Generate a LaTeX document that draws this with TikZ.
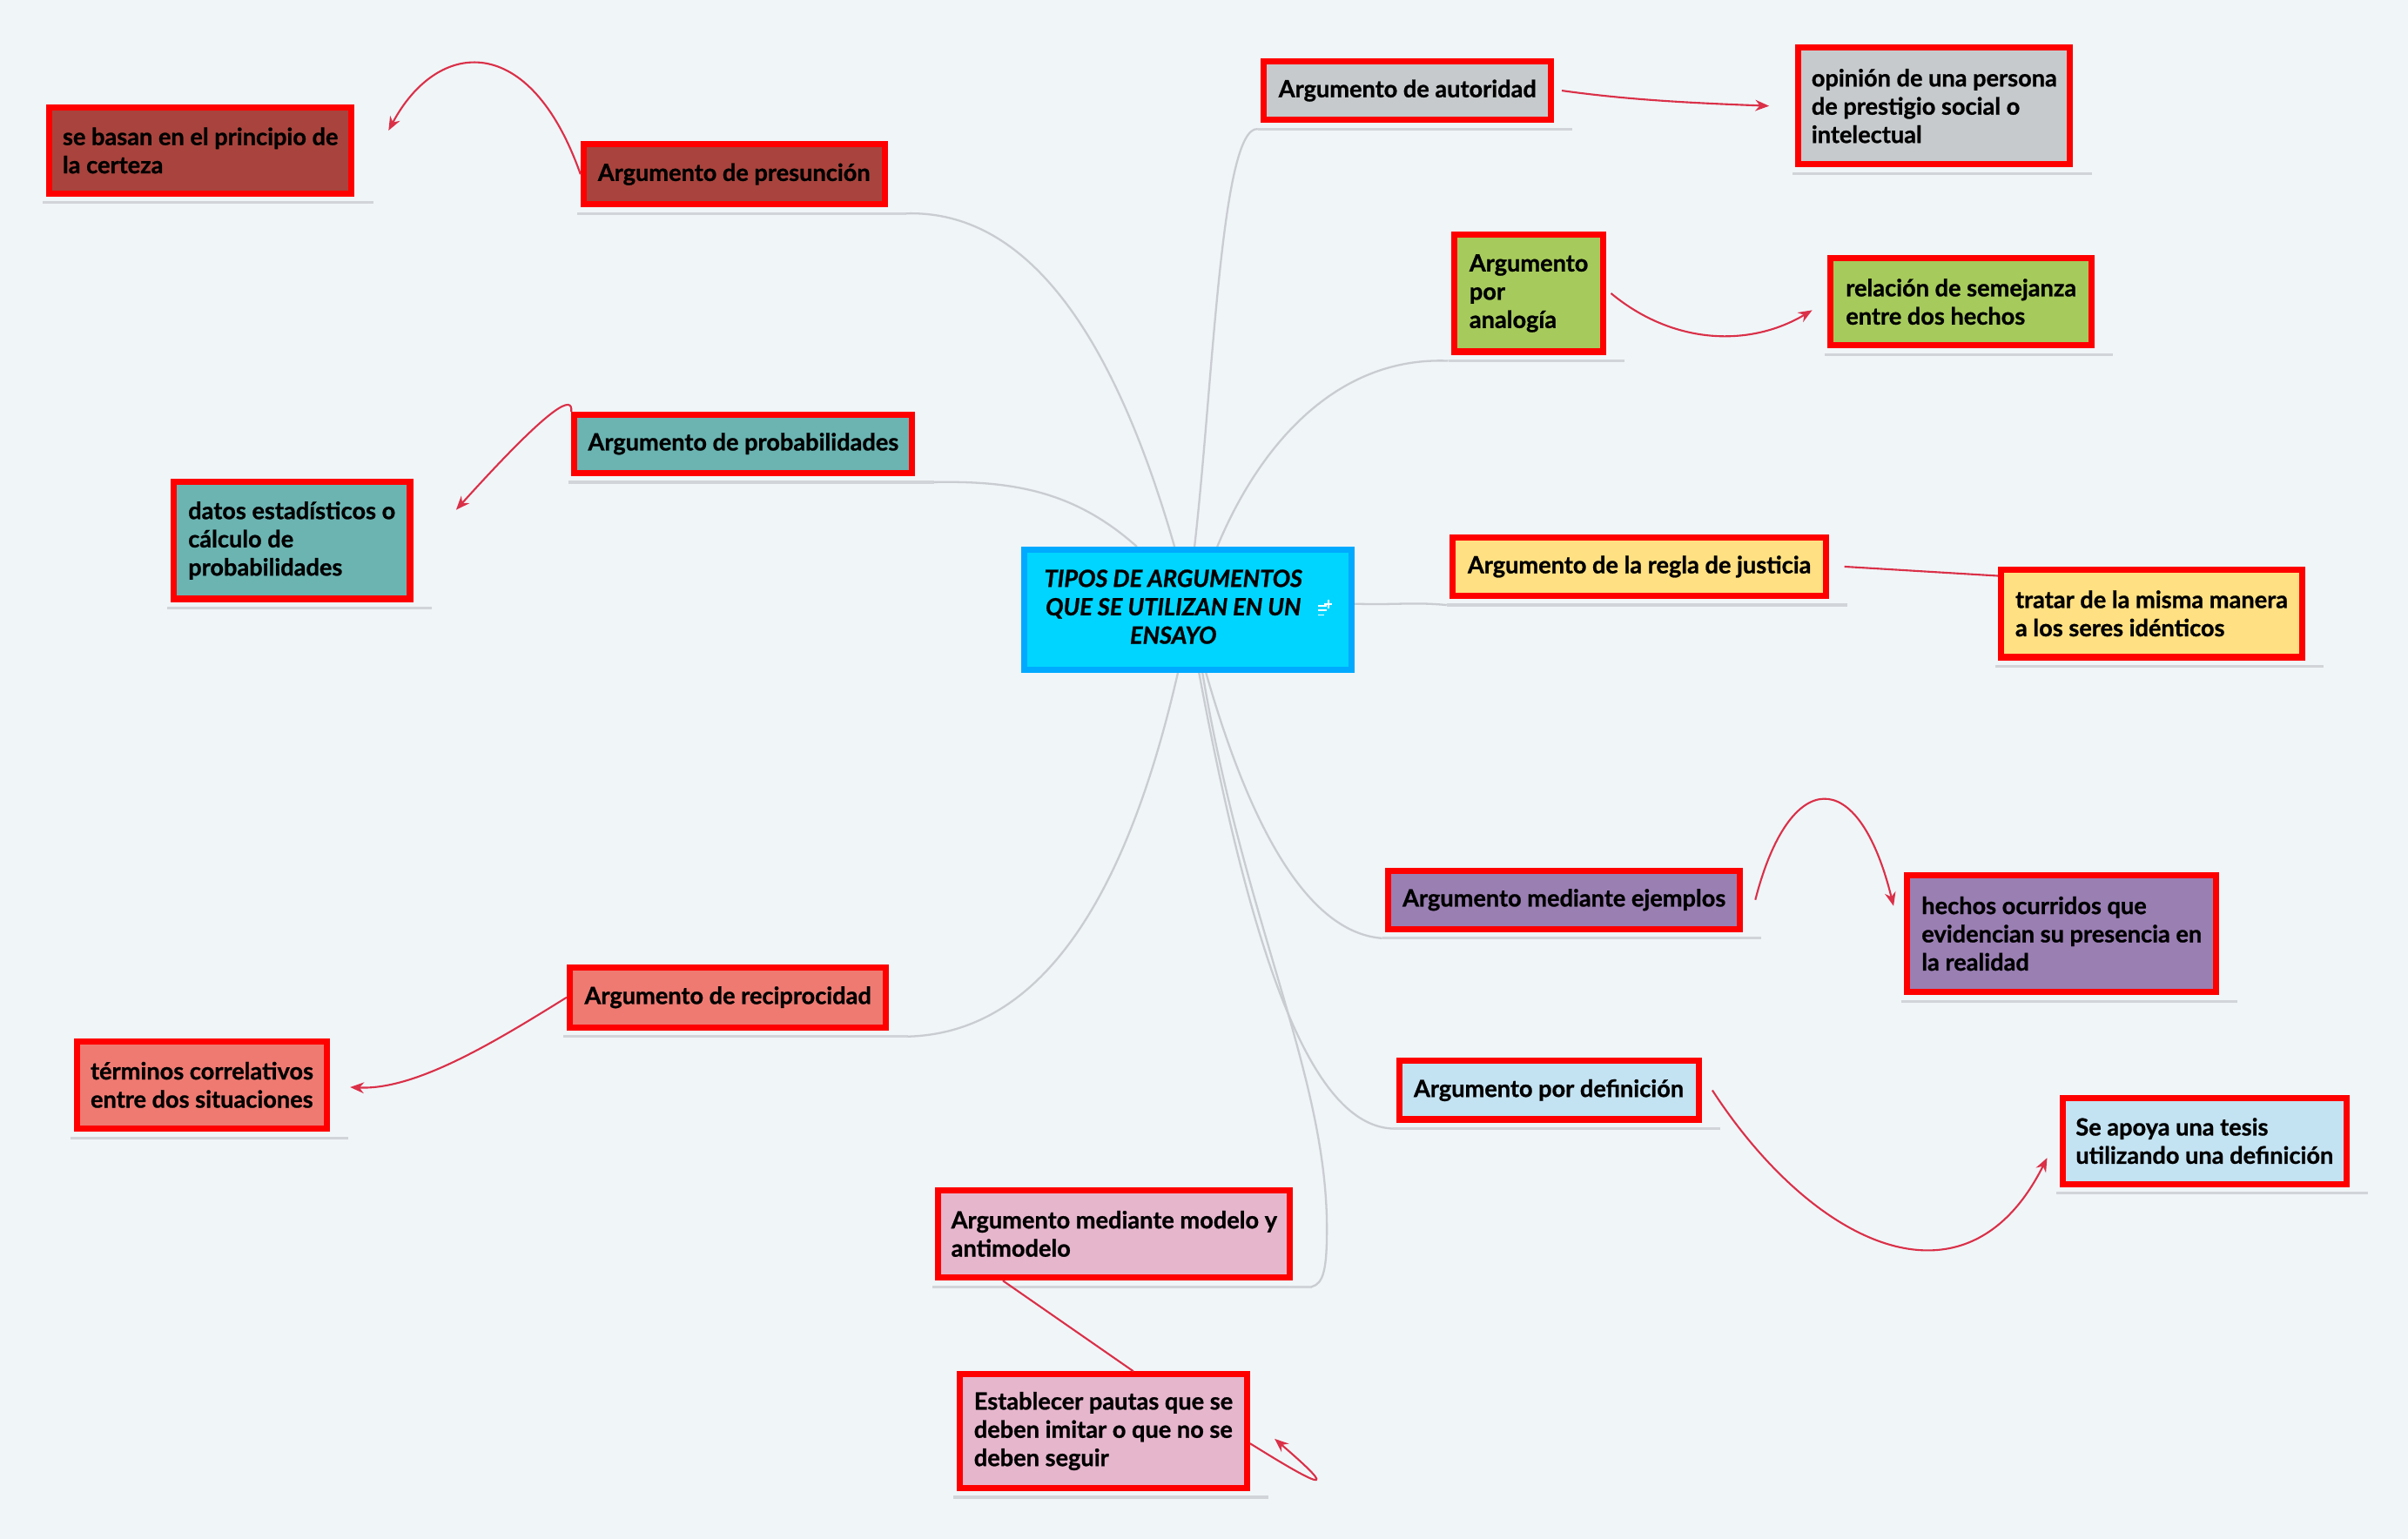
\documentclass[tikz,border=0pt]{standalone}
\usepackage{fontspec}
\setmainfont{Lato}[BoldFeatures={FakeBold=0.9}, BoldItalicFeatures={FakeBold=0.9}]
\usetikzlibrary{arrows.meta,backgrounds}

\definecolor{fondo}{RGB}{240,245,248}
\definecolor{gris}{RGB}{201,205,209}
\definecolor{rojo}{RGB}{255,0,0}
\definecolor{flechar}{RGB}{218,48,72}
\definecolor{cian}{RGB}{0,213,255}
\definecolor{azul}{RGB}{0,170,255}
\definecolor{cgris}{RGB}{198,202,204}
\definecolor{cverde}{RGB}{166,202,92}
\definecolor{camarillo}{RGB}{255,224,130}
\definecolor{cmorado}{RGB}{154,127,179}
\definecolor{cceleste}{RGB}{195,226,242}
\definecolor{crosa}{RGB}{230,182,205}
\definecolor{csalmon}{RGB}{238,122,114}
\definecolor{cturquesa}{RGB}{107,180,178}
\definecolor{cladrillo}{RGB}{168,68,61}

\begin{document}
\begin{tikzpicture}[x=0.5pt, y=-0.5pt,
    rama/.style = {draw=rojo, line width=2pt, align=left, inner sep=0pt, font=\fontsize{7.7}{9.2}\selectfont\bfseries},
    enlace/.style = {draw=gris, line width=0.65pt},
    flecha/.style = {draw=flechar, line width=0.6pt, -{Stealth[length=4.5pt,width=3.6pt]}},
    subraya/.style = {draw=gris!85, line width=0.9pt}]

    \useasboundingbox (0,0) rectangle (1568,1002);

    % tema central
    \node[draw=azul, fill=cian, line width=2pt, minimum width=106.5pt, minimum height=39pt, inner sep=0pt,
          font=\fontsize{7.7}{9.25}\selectfont\bfseries\itshape] (centro) at (773.5,397)
          {\begin{tabular}{@{}c@{}}TIPOS DE ARGUMENTOS\\QUE SE UTILIZAN EN UN\\ENSAYO\end{tabular}\hbox to 9.5pt{}};
    \draw[white, line width=0.55pt] (858,394.5) -- (864,394.5) (858,397.5) -- (864,397.5) (858,400.5) -- (862,400.5)
          (865,390.5) -- (865,396) (862.5,393.2) -- (867.5,393.2);

    % ramas de la derecha
    \node[rama, fill=cgris, minimum width=93.5pt, minimum height=19pt] (autoridad) at (916.5,59) {Argumento de autoridad};
    \node[rama, fill=cgris, minimum width=88.5pt, minimum height=38pt] (opinion) at (1259.5,69) {opinión de una persona\\de prestigio social o\\intelectual};
    \node[rama, fill=cverde, minimum width=48.5pt, minimum height=38pt] (analogia) at (995.5,191) {Argumento\\por\\analogía};
    \node[rama, fill=cverde, minimum width=85pt, minimum height=28.5pt] (semejanza) at (1277,196.5) {relación de semejanza\\entre dos hechos};
    \node[rama, fill=camarillo, minimum width=121.5pt, minimum height=19pt] (justicia) at (1067.5,369) {Argumento de la regla de justicia};
    \node[rama, fill=camarillo, minimum width=98pt, minimum height=28.5pt] (tratar) at (1401,399.5) {tratar de la misma manera\\a los seres idénticos};
    \node[rama, fill=cmorado, minimum width=114.5pt, minimum height=19pt] (ejemplos) at (1018.5,586) {Argumento mediante ejemplos};
    \node[rama, fill=cmorado, minimum width=100.5pt, minimum height=38pt] (hechos) at (1342.5,608) {hechos ocurridos que\\evidencian su presencia en\\la realidad};
    \node[rama, fill=cceleste, minimum width=97.5pt, minimum height=19pt] (definicion) at (1008.5,710) {Argumento por definición};
    \node[rama, fill=cceleste, minimum width=92.5pt, minimum height=28pt] (apoya) at (1435.5,743) {Se apoya una tesis\\utilizando una definición};

    % ramas de abajo y de la izquierda
    \node[rama, fill=crosa, minimum width=114.5pt, minimum height=28.5pt] (modelo) at (725.5,803.5) {Argumento mediante modelo y\\antimodelo};
    \node[rama, fill=crosa, minimum width=93.5pt, minimum height=37pt] (pautas) at (718.5,932) {Establecer pautas que se\\deben imitar o que no se\\deben seguir};
    \node[rama, fill=csalmon, minimum width=103pt, minimum height=19.5pt] (reciprocidad) at (474,649.5) {Argumento de reciprocidad};
    \node[rama, fill=csalmon, minimum width=81.5pt, minimum height=28.5pt] (correlativos) at (131.5,706.5) {términos correlativos\\entre dos situaciones};
    \node[rama, fill=cturquesa, minimum width=110pt, minimum height=19pt] (probabilidades) at (484,289) {Argumento de probabilidades};
    \node[rama, fill=cturquesa, minimum width=77pt, minimum height=38pt] (datos) at (190,352) {datos estadísticos o\\cálculo de\\probabilidades};
    \node[rama, fill=cladrillo, minimum width=98pt, minimum height=19.5pt] (presuncion) at (478,113.5) {Argumento de presunción};
    \node[rama, fill=cladrillo, minimum width=98.5pt, minimum height=28pt] (certeza) at (130.5,98) {se basan en el principio de\\la certeza};

    % puntas sueltas de las flechas
    \coordinate (fcerteza) at (253,85);
    \coordinate (fdatos) at (297,332);
    \coordinate (fcorrelativos) at (228,708);
    \coordinate (fopinion) at (1152,69);
    \coordinate (fsemejanza) at (1180,202);
    \coordinate (fhechos) at (1233,590);
    \coordinate (fapoya) at (1333,754);
    \coordinate (fbucle) at (830,937);

    \begin{scope}[on background layer]
    \fill[fondo] (0,0) rectangle (1568,1002);

    % subrayados
    \foreach \n in {autoridad, opinion, analogia, semejanza, justicia, tratar, ejemplos, hechos, definicion, apoya,
                    modelo, pautas, reciprocidad, correlativos, probabilidades, datos, presuncion, certeza}
        \draw[subraya] ([xshift=-1pt, yshift=-2pt]\n.south west) -- ([xshift=6pt, yshift=-2pt]\n.south east);

    % enlaces grises
    \draw[enlace] (centro.84) .. controls (790,250) and (795,82) .. ([xshift=-1pt, yshift=-2pt]autoridad.south west);
    \draw[enlace] (centro.65) .. controls (820,290) and (870,232) .. ([xshift=-1pt, yshift=-2pt]analogia.south west);
    \draw[enlace] (centro.2) .. controls (910,394) and (920,392) .. ([xshift=-1pt, yshift=-2pt]justicia.south west);
    \draw[enlace] (centro.286) .. controls (820,560) and (860,608) .. ([xshift=-1pt, yshift=-2pt]ejemplos.south west);
    \draw[enlace] (centro.280) .. controls (820,650) and (860,733) .. ([xshift=-1pt, yshift=-2pt]definicion.south west);
    \draw[enlace] (centro.283) .. controls (810,600) and (864,700) .. (864,800) .. controls (864,826) and (862,836) .. ([xshift=6pt, yshift=-2pt]modelo.south east);
    \draw[enlace] (centro.102) .. controls (720,200) and (660,137) .. ([xshift=6pt, yshift=-2pt]presuncion.south east);
    \draw[enlace] (centro.129) .. controls (700,320) and (660,313) .. ([xshift=6pt, yshift=-2pt]probabilidades.south east);
    \draw[enlace] (centro.261) .. controls (730,600) and (670,673) .. ([xshift=6pt, yshift=-2pt]reciprocidad.south east);
    \end{scope}

    % flechas rojas
    \draw[flecha] (presuncion.west) .. controls (345,20) and (285,25) .. (fcerteza);
    \draw[flecha] (probabilidades.north west) .. controls (373,258) and (362,260) .. (fdatos);
    \draw[flecha] (reciprocidad.west) .. controls (320,680) and (270,710) .. (fcorrelativos);
    \draw[flecha] ([xshift=2.5pt]autoridad.east) .. controls (1060,65) and (1100,67) .. (fopinion);
    \draw[flecha] ([xshift=1.5pt]analogia.east) .. controls (1090,225) and (1140,226) .. (fsemejanza);
    \draw[flechar, line width=0.6pt] ([xshift=5pt]justicia.east) -- ([yshift=-3pt]tratar.north west);
    \draw[flecha] ([xshift=4pt]ejemplos.east) .. controls (1165,500) and (1210,497) .. (fhechos);
    \draw[flecha] ([xshift=3.5pt]definicion.east) .. controls (1180,810) and (1280,860) .. (fapoya);
    \draw[flechar, line width=0.6pt] ([xshift=22pt]modelo.south west) -- ([xshift=57.5pt]pautas.north west);
    \draw[flecha] ([yshift=-4pt]pautas.east) .. controls (870,975) and (866,968) .. (fbucle);

\end{tikzpicture}
\end{document}
